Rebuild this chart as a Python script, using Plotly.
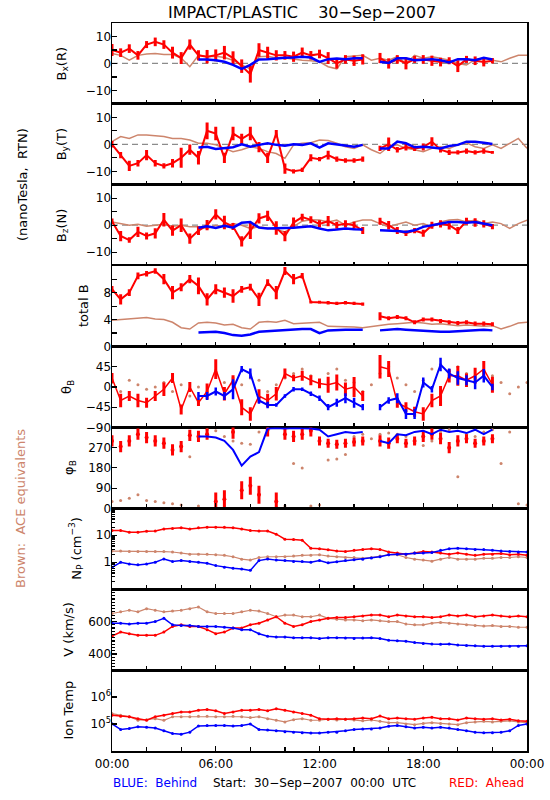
import plotly.graph_objects as go
from plotly.subplots import make_subplots

# ---------------- data (hours of 30-Sep-2007, 30-min samples) ----------------
hours = [0.0, 0.5, 1.0, 1.5, 2.0, 2.5, 3.0, 3.5, 4.0, 4.5, 5.0, 5.5,
         6.0, 6.5, 7.0, 7.5, 8.0, 8.5, 9.0, 9.5, 10.0, 10.5, 11.0, 11.5,
         12.0, 12.5, 13.0, 13.5, 14.0, 14.5, 15.0, 15.5, 16.0, 16.5, 17.0, 17.5,
         18.0, 18.5, 19.0, 19.5, 20.0, 20.5, 21.0, 21.5, 22.0, 22.5, 23.0, 23.5,
         24.0]
N = None

red_bx = [5, 4, 5.5, 3, 7, 8, 7, 4, 2, 7, 3, 2.5,
          3, 4, 2, -1, -4, 5, 4, 3, 3, 2.5, 4, 3,
          3.5, 2, 0, 1.5, 1, 1.5, N, 2, 0, 1.5, 0, 1.5,
          1.5, 1, 0.5, 1, -1, 1.5, 1, 0.5, 1, N, N, N,
          N]
red_bx_spread = [2.2, 1.6, 1.6, 1.6, 1.3, 1.6, 1.6, 2.2, 2.2, 1.9, 1.9, 2.5,
                 2.2, 2.5, 2.5, 2.5, 3.1, 2.5, 2.2, 1.9, 1.6, 1.9, 1.9, 1.6,
                 1.6, 2.2, 1.9, 1.6, 1.9, 1.9, 0, 1.9, 1.9, 1.6, 2.2, 1.3,
                 1.6, 1.9, 1.6, 1.3, 2.2, 1.3, 1.6, 1.6, 1.0, 0, 0, 0,
                 0]
blue_bx = [N, N, N, N, N, N, N, N, N, N, 1.5, 1.5,
           1.2, 0.6, -0.5, -2, -0.5, 1.5, 1.6, 1.9, 2.1, 2.2, 2.5, 2.2,
           0.6, 1.6, 1.8, 1.6, 1.9, 1.9, N, 0.6, 0.2, 1.9, 1.9, 1.2,
           1.5, 1.6, 1.2, 0.4, 1.6, 1.6, 1.2, 2.1, 1.5, N, N, N,
           N]
ace_bx = [3.7, 3, 1.2, 3, 3.5, 3.7, 3.3, 3.3, 2, -1.2, 3, 2.5,
          2.7, 2.2, 1.2, -0.6, -2, 2.5, 2.7, 2, 2, 1.5, 1.2, 1,
          0.6, -1.2, -2, 2.5, 2.7, 3, 1.2, 1.9, 1.2, 2.5, 0, 3,
          1.9, 2.5, 1.9, 1.2, 0, -0.6, 1.5, 1.9, 1.2, 0.6, 1.9, 3,
          3]

red_by = [0, -4, -8, -7, -4, -7, -8, -7, -5, -2, -5, 5,
          4, -5, 4, 2, 4, -1, -5, 4, -9, -10, -9.5, -5,
          -5.5, -4, -5.5, -6, -6, -5.5, N, -1.5, 0, -2, -1, -1.5,
          -1, 1, -2, -3, -3, -2.5, -3, -2.5, -3, N, N, N,
          N]
red_by_spread = [1.2, 1.2, 1.9, 1.2, 1.9, 1.2, 1.0, 1.6, 3.7, 1.9, 2.5, 3.1,
                 2.5, 1.9, 2.5, 1.9, 2.5, 1.9, 1.9, 1.3, 1.9, 0.8, 0.8, 1.3,
                 0.8, 1.6, 1.0, 0.8, 0.8, 1.0, 0, 1.0, 2.5, 1.0, 1.3, 1.0,
                 1.3, 1.6, 1.0, 1.0, 0.8, 1.0, 0.8, 1.0, 0.5, 0, 0, 0,
                 0]
blue_by = [N, N, N, N, N, N, N, N, N, N, -1.2, -0.9,
           -1.7, -1.5, -1.1, 0, -0.9, -0.2, 0.4, -0.2, -0.5, 0, -0.2, 0.4,
           -1.2, 0.4, 0, -0.6, -0.9, -0.2, N, -1.5, -1.5, 1, 0.4, -1.1,
           -0.9, -1.2, -1.5, -0.6, -0.2, 1, 1, 0.6, 0.1, N, N, N,
           N]
ace_by = [1, 2.9, 2.2, 3.5, 3.5, 3.1, 2.9, 2.2, 2.2, 1.6, 0.4, 0.4,
          -0.2, -1.5, -2.7, -2, -0.9, -1.5, -2.7, -3.4, -5.2, -0.2, 0.4, 0.6,
          1.6, 1.4, 0.4, -0.9, -1.5, -0.2, -2, -3.4, -0.9, -0.2, -1.5, -2,
          -2.7, -1.5, -0.9, -1.5, -0.2, 0.6, -0.9, -1.5, -0.2, -1.5, 0.4, 2.2,
          -1.5]

red_bz = [1.5, -4, -5.5, -2.5, -4, -3, 2, -2, 0, -5, -2, 0,
          4, 1, -0.5, -6, -2, 2.5, 3.5, -1, -4, 1, 3, 2,
          0.5, 1.5, 0, 0.5, 0, -2, N, 1.5, 0, -2, -3, -2,
          -3, 0, 0.5, 0, -2, 1.5, 1, 0.5, -0.5, N, N, N,
          N]
red_bz_spread = [1.0, 1.9, 1.0, 1.9, 1.3, 1.9, 2.5, 1.9, 2.5, 1.9, 1.6, 1.9,
                 1.9, 2.5, 1.3, 1.9, 3.1, 1.9, 1.9, 2.5, 1.9, 1.9, 1.3, 1.3,
                 1.3, 1.9, 1.3, 1.3, 1.3, 1.3, 0, 1.3, 1.6, 1.3, 1.0, 1.0,
                 1.3, 1.3, 1.3, 1.6, 1.3, 1.3, 1.6, 1.3, 1.0, 0, 0, 0,
                 0]
blue_bz = [N, N, N, N, N, N, N, N, N, N, -0.9, -0.4,
           -1, -0.2, -0.9, 0.9, 1.2, -0.9, -1.2, -1.2, -1, -0.9, -0.6, -0.4,
           -1.2, -1.9, -1.6, -1.2, -1.5, -1.6, N, -1.9, -1.9, -2.1, -2.5, -1.9,
           -0.6, 0, 0.6, 1.2, 1.2, 0.9, 1.2, 0.6, 0, N, N, N,
           N]
ace_bz = [1.2, 0.6, 0, 0.4, -0.4, 0, 0.4, -0.4, 0, -0.6, -0.6, -1.2,
          0, -0.6, 0.6, 0, -1.2, -0.6, -1.2, -1.6, -2.5, -0.6, 1.5, 2,
          1.9, 1.2, 1.9, 0, 1.2, 1.9, 1.9, 0.6, -0.6, 0.4, 1.2, 0,
          0.6, -0.6, 1.2, 1.9, 2.1, 1.2, 1.9, 0.6, 1.2, 0.6, -1.2, 0.6,
          1.9]

red_bt = [8.5, 7, 8, 10.5, 10.8, 11.2, 10, 8, 8.8, 10, 9, 7,
          8.5, 8, 7.5, 8.5, 8.8, 7, 9.5, 8, 11.2, 10, 10.5, 6.6,
          6.6, 6.5, 6.4, 6.5, 6.4, 6.3, N, 4.5, 4.2, 4.4, 4.2, 3.6,
          4.0, 4.0, 3.8, 3.6, 3.5, 3.6, 3.4, 3.4, 3.3, N, N, N,
          N]
red_bt_spread = [0.5, 0.75, 0.5, 0.5, 0.4, 0.4, 0.75, 1.0, 0.6, 0.6, 1.25, 0.9,
                 0.75, 0.75, 1.0, 0.5, 0.5, 1.0, 0.5, 1.0, 0.6, 0.75, 0.4, 0.2,
                 0.2, 0.25, 0.25, 0.25, 0.25, 0.25, 0, 0.6, 0.3, 0.3, 0.3, 0.3,
                 0.3, 0.3, 0.3, 0.3, 0.3, 0.3, 0.3, 0.3, 0.3, 0, 0, 0,
                 0]
blue_bt = [N, N, N, N, N, N, N, N, N, N, 2.1, 2.1,
           2.2, 2.0, 1.7, 1.6, 1.8, 2.2, 2.3, 2.4, 2.5, 2.6, 2.6, 2.6,
           2.0, 2.4, 2.5, 2.5, 2.5, 2.5, N, 2.4, 2.5, 2.6, 2.5, 2.4,
           2.3, 2.2, 2.2, 2.2, 2.3, 2.4, 2.4, 2.5, 2.4, N, N, N,
           N]
ace_bt = [3.9, 4.0, 4.2, 4.3, 4.3, 4.1, 4.0, 3.6, 2.8, 2.6, 3.5, 3.6,
          3.5, 3.2, 3.3, 2.8, 2.6, 3.6, 3.7, 3.6, 3.9, 3.4, 3.5, 3.6,
          3.6, 3.0, 3.0, 2.9, 2.9, 2.8, 3.0, 3.2, 3.3, 3.4, 3.5, 3.6,
          3.5, 3.3, 3.4, 3.2, 3.1, 3.2, 3.1, 3.0, 3.1, 2.6, 3.0, 3.5,
          3.6]

red_theta = [20, -30, -20, -30, -35, -20, -5, 20, -50, 0, -35, -10,
             40, -15, 15, -45, -60, -20, -30, -15, 30, 20, 25, 15,
             8, 5, 10, -5, 0, -20, N, 45, 40, -35, -45, -55,
             -60, -30, -20, 25, 25, 15, 25, 40, 5, N, N, N,
             N]
red_theta_spread = [11, 15, 11, 15, 11, 11, 15, 11, 11, 11, 7, 18,
                    22, 15, 11, 18, 15, 15, 15, 15, 11, 7, 11, 11,
                    11, 18, 18, 15, 22, 11, 0, 26, 18, 11, 11, 11,
                    15, 15, 22, 15, 22, 15, 18, 18, 18, 0, 0, 0,
                    0]
blue_theta = [N, N, N, N, N, N, N, N, N, N, -20, -20,
              -10, -20, -5, 40, 30, -30, -40, -40, -20, -5, -5, -15,
              -25, -45, -35, -25, -35, -45, N, -45, -30, -25, -60, -60,
              10, -5, 50, 30, 20, 15, 10, 25, 0, N, N, N,
              N]
blue_theta_spread = [0, 0, 0, 0, 0, 0, 0, 0, 0, 0, 9, 9,
                     9, 9, 22, 7, 11, 7, 7, 4, 4, 5, 4, 5,
                     6, 7, 9, 11, 11, 7, 0, 7, 7, 11, 11, 11,
                     11, 7, 15, 11, 15, 11, 15, 15, 7, 0, 0, 0,
                     0]
ace_theta = [10, -10, 15, 5, -5, 0, 10, -10, 5, -20, 0, -10,
             30, 10, 20, 5, 20, 15, -10, 5, 20, 30, 40, 25,
             10, 30, 40, 15, 10, -10, 5, 30, 45, 20, 5, -10,
             15, 40, 50, 35, 45, 30, 20, 35, 25, 10, -15, 0,
             10]

red_phi = [300, 275, 300, 330, 315, 300, 290, 260, 275, 325, 320, 330,
           30, 40, 340, 80, 100, 60, 350, 30, 330, 320, 330, 345,
           300, 290, 285, 290, 295, 300, N, 300, 290, 310, 290, 300,
           320, 330, 310, 270, 300, 310, 290, 300, 310, N, N, N,
           N]
red_phi_spread = [25, 25, 25, 25, 25, 25, 25, 25, 25, 25, 25, 25,
                  40, 40, 30, 40, 40, 40, 30, 40, 25, 25, 25, 25,
                  20, 20, 20, 20, 20, 20, 0, 25, 25, 20, 20, 20,
                  25, 25, 25, 25, 25, 20, 20, 20, 20, 0, 0, 0,
                  0]
blue_phi = [N, N, N, N, N, N, N, N, N, N, 320, 320,
            315, 300, 260, 190, 230, 250, 355, 358, 355, 358, 356, 355,
            350, 320, 330, 340, 335, 340, N, 300, 290, 330, 325, 340,
            345, 330, 350, 340, 345, 335, 350, 330, 350, N, N, N,
            N]
ace_phi = [30, 35, 45, 60, 35, 30, 25, 20, 15, 230, 10, 350,
           345, 320, 300, 290, 285, 340, 355, 5, 10, 200, 180, 10,
           15, 215, 220, 240, 320, 330, 310, 330, 335, 330, 320, 290,
           280, 300, 340, 350, 140, 330, 320, 340, 350, 200, 340, 20,
           15]

red_np = [15, 15, 13, 13, 14, 14.5, 17, 18, 19, 17, 19, 20,
          20, 20, 19, 17, 15, 14.5, 14.5, 11, 7.2, 7, 6.6, 3.3,
          3.2, 2.9, 2.6, 2.5, 2.8, 3.0, 3.2, 3.0, 2.4, 2.2, 2.0, 2.2,
          2.5, 2.4, 2.2, 2.0, 2.2, 2.0, 1.8, 2.0, 2.0, 2.1, 1.9, 2.0,
          1.8]
blue_np = [0.65, 1.0, 0.87, 0.8, 0.87, 1.0, 1.33, 1.06, 1.15, 1.06, 1.0, 0.92,
           0.75, 0.65, 0.6, 0.56, 0.5, 1.15, 1.33, 1.2, 1.15, 1.06, 1.06, 1.0,
           1.15, 0.95, 1.05, 1.15, 1.25, 1.3, 1.45, 1.6, 1.9, 2.0, 2.0, 2.2,
           2.2, 2.3, 2.8, 3.2, 3.3, 3.2, 3.0, 3.0, 2.8, 2.6, 2.5, 2.4,
           2.4]
ace_np = [2.6, 2.6, 2.5, 2.5, 2.5, 2.5, 2.5, 2.4, 2.2, 2.0, 2.0, 2.0,
          1.9, 1.8, 1.6, 1.3, 1.2, 1.5, 1.6, 1.6, 1.6, 1.7, 1.8, 1.8,
          1.9, 1.7, 1.6, 1.5, 1.5, 1.4, 1.5, 1.7, 1.9, 1.9, 1.5, 1.3,
          1.2, 1.1, 1.3, 1.5, 1.3, 1.3, 1.3, 1.4, 1.4, 1.5, 1.5, 1.6,
          1.5]

red_v = [510, 535, 525, 515, 515, 515, 535, 570, 580, 570, 570, 550,
         525, 535, 560, 560, 580, 590, 610, 630, 590, 570, 580, 600,
         610, 620, 625, 625, 630, 635, 640, 640, 630, 640, 635, 630,
         630, 625, 630, 640, 635, 640, 630, 635, 640, 635, 630, 635,
         630]
blue_v = [590, 590, 585, 590, 590, 600, 620, 580, 575, 575, 570, 570,
          570, 565, 560, 550, 550, 525, 510, 505, 505, 500, 500, 500,
          495, 500, 500, 498, 496, 498, 500, 495, 485, 482, 478, 470,
          465, 462, 460, 462, 455, 452, 450, 448, 448, 448, 448, 448,
          450]
ace_v = [650, 660, 670, 660, 680, 670, 660, 665, 670, 680, 690, 660,
         650, 650, 650, 660, 670, 665, 650, 630, 640, 640, 630, 630,
         640, 620, 615, 610, 610, 605, 610, 605, 600, 600, 585, 580,
         580, 590, 595, 590, 585, 580, 575, 572, 575, 570, 570, 565,
         565]

red_temp = [2.14e5, 1.95e5, 1.86e5, 1.58e5, 1.38e5, 1.86e5, 2.14e5, 2.45e5, 2.82e5, 2.82e5, 3.24e5, 3.47e5,
            3.09e5, 2.45e5, 2.82e5, 3.24e5, 3.24e5, 3.47e5, 3.09e5, 3.72e5, 3.24e5, 2.82e5, 2.45e5, 2.14e5,
            1.58e5, 1.51e5, 1.58e5, 1.51e5, 1.58e5, 1.66e5, 1.58e5, 2.0e5, 1.58e5, 1.66e5, 1.58e5, 1.51e5,
            1.66e5, 1.78e5, 1.58e5, 1.58e5, 1.41e5, 1.66e5, 1.58e5, 1.51e5, 1.58e5, 1.41e5, 1.51e5, 1.32e5,
            1.26e5]
blue_temp = [1.02e5, 6.3e4, 6.8e4, 7.9e4, 7.6e4, 7.1e4, 5.6e4, 4.5e4, 4.2e4, 5.0e4, 8.5e4, 8.9e4,
             8.9e4, 8.9e4, 8.5e4, 8.9e4, 1.0e5, 6.3e4, 6.0e4, 5.6e4, 5.2e4, 5.0e4, 4.8e4, 4.7e4,
             4.7e4, 5.0e4, 5.0e4, 5.6e4, 6.3e4, 6.6e4, 6.6e4, 7.1e4, 8.3e4, 8.9e4, 7.9e4, 7.1e4,
             7.6e4, 7.1e4, 7.6e4, 7.1e4, 6.3e4, 5.6e4, 5.0e4, 4.8e4, 4.8e4, 5.0e4, 5.6e4, 8.9e4,
             1.0e5]
ace_temp = [2.45e5, 2.14e5, 1.86e5, 1.38e5, 1.45e5, 1.58e5, 1.38e5, 1.86e5, 1.86e5, 1.86e5, 1.95e5, 1.95e5,
            1.86e5, 1.86e5, 1.95e5, 1.86e5, 1.74e5, 1.86e5, 1.58e5, 1.38e5, 1.2e5, 1.45e5, 1.58e5, 1.38e5,
            1.38e5, 1.51e5, 1.41e5, 1.51e5, 1.41e5, 1.32e5, 1.41e5, 1.26e5, 1.12e5, 1.12e5, 1.0e5, 9.5e4,
            1.05e5, 1.12e5, 1.05e5, 1.0e5, 9.5e4, 1.12e5, 1.2e5, 1.26e5, 1.2e5, 1.26e5, 1.32e5, 1.2e5,
            1.12e5]

x_tickvals = [0, 6, 12, 18, 24]
x_ticktext = ["00:00", "06:00", "12:00", "18:00", "00:00"]

# ---------------- figure ----------------
RED = "#FF0000"
BLUE = "#0000FF"
BROWN = "rgb(205,133,108)"
FONT = "DejaVu Sans"
YSTAND = -3

fig = make_subplots(rows=9, cols=1, shared_xaxes=True, vertical_spacing=0)


def add(row, y, color, spread=None, mode="lines", width=1.5, msize=3, thick=3.0):
    tr = go.Scatter(x=hours, y=y, mode=mode,
                    line=dict(color=color, width=width),
                    marker=dict(color=color, size=msize),
                    connectgaps=False, showlegend=False, hoverinfo="skip")
    if spread is not None:
        tr.error_y = dict(type="data", array=spread, visible=True,
                          width=0, thickness=thick, color=color)
    fig.add_trace(tr, row=row, col=1)


# B components
for row, (rv, rs, bv, av) in enumerate([
        (red_bx, red_bx_spread, blue_bx, ace_bx),
        (red_by, red_by_spread, blue_by, ace_by),
        (red_bz, red_bz_spread, blue_bz, ace_bz),
        (red_bt, red_bt_spread, blue_bt, ace_bt)], start=1):
    add(row, av, BROWN, width=1.5)
    add(row, rv, RED, spread=rs, width=2)
    add(row, bv, BLUE, width=2.5)

add(5, ace_theta, BROWN, mode="markers", msize=3)
add(5, red_theta, RED, spread=red_theta_spread, width=1.5)
add(5, blue_theta, BLUE, spread=blue_theta_spread, width=2, thick=2.5)

add(6, ace_phi, BROWN, mode="markers", msize=3)
add(6, red_phi, RED, spread=red_phi_spread, mode="markers", msize=4)
add(6, blue_phi, BLUE, width=2)

add(7, ace_np, BROWN, mode="lines+markers", width=1.2, msize=3)
add(7, red_np, RED, mode="lines+markers", width=1.5, msize=3)
add(7, blue_np, BLUE, mode="lines+markers", width=1.5, msize=3)

add(8, ace_v, BROWN, mode="lines+markers", width=1.2, msize=3)
add(8, red_v, RED, mode="lines+markers", width=1.5, msize=3)
add(8, blue_v, BLUE, mode="lines+markers", width=1.5, msize=3)

add(9, ace_temp, BROWN, mode="lines+markers", width=1.2, msize=3)
add(9, red_temp, RED, mode="lines+markers", width=1.5, msize=3)
add(9, blue_temp, BLUE, mode="lines+markers", width=1.5, msize=3)

for row in (1, 2, 3):
    fig.add_hline(y=0, line=dict(color="#8c8c8c", dash="6px,4px", width=1.2),
                  layer="below", row=row, col=1)

axis_common = dict(showline=True, linecolor="black", linewidth=1.5, mirror=True,
                   ticks="inside", tickcolor="black", ticklen=5, tickwidth=1.2,
                   showgrid=False, zeroline=False, automargin=False,
                   tickfont=dict(family=FONT, size=12, color="black"))

for i in range(1, 10):
    fig.update_xaxes(range=[0, 24], tickmode="array", tickvals=x_tickvals,
                     ticktext=x_ticktext, showticklabels=(i == 9), ticklabelstandoff=1,
                     minor=dict(tickmode="array", tickvals=[2, 4, 8, 10, 14, 16, 20, 22],
                                ticks="inside", ticklen=4, tickcolor="black"),
                     row=i, col=1, **axis_common)

lin_axes = {
    1: dict(range=[-15, 15], tickvals=[-10, 0, 10], ticktext=["\u221210", "0", "10"], minor=[-5, 5]),
    2: dict(range=[-15, 15], tickvals=[-10, 0, 10], ticktext=["\u221210", "0", "10"], minor=[-5, 5]),
    3: dict(range=[-15, 15], tickvals=[-10, 0, 10], ticktext=["\u221210", "0", "10"], minor=[-5, 5]),
    4: dict(range=[0, 12], tickvals=[0, 4, 8], ticktext=["0", "4", "8"], minor=[2, 6, 10]),
    5: dict(range=[-90, 90], tickvals=[-90, -45, 0, 45], ticktext=["\u221290", "\u221245", "0", "45"], minor=[]),
    6: dict(range=[0, 360], tickvals=[0, 90, 180, 270], ticktext=["0", "90", "180", "270"], minor=[]),
    8: dict(range=[300, 800], tickvals=[400, 600], ticktext=["400", "600"],
            minor=[320, 340, 360, 380, 420, 440, 460, 480, 500, 520, 540, 560, 580,
                   620, 640, 660, 680, 700, 720, 740, 760, 780]),
}
for row, a in lin_axes.items():
    fig.update_yaxes(range=a["range"], tickmode="array", tickvals=a["tickvals"],
                     ticktext=a["ticktext"], ticklabelstandoff=YSTAND,
                     minor=dict(tickmode="array", tickvals=a["minor"], ticks="inside",
                                ticklen=3 if row == 8 else 5, tickcolor="black"),
                     row=row, col=1, **axis_common)

fig.update_yaxes(type="log", range=[-1, 2], tickmode="array", tickvals=[1, 10],
                 ticktext=["1", "10"], ticklabelstandoff=YSTAND,
                 minor=dict(tickmode="array",
                            tickvals=[0.2, 0.3, 0.4, 0.5, 0.6, 0.7, 0.8, 0.9,
                                      2, 3, 4, 5, 6, 7, 8, 9,
                                      20, 30, 40, 50, 60, 70, 80, 90],
                            ticks="inside", ticklen=3, tickcolor="black"),
                 row=7, col=1, **axis_common)
fig.update_yaxes(type="log", range=[4, 7], tickmode="array", tickvals=[1e5, 1e6],
                 ticktext=["10<sup>5</sup>", "10<sup>6</sup>"], ticklabelstandoff=YSTAND,
                 row=9, col=1, **axis_common)

# ---------------- text ----------------
W, H = 550, 800
L, R, T, B = 112, 23, 23, 49
PW, PH = W - L - R, H - T - B


def px_x(px):  # page pixel -> paper x
    return (px - L) / PW


def px_y(py):  # page pixel -> paper y
    return (H - B - py) / PH


ytitles = ["B<sub>x</sub>(R)", "B<sub>y</sub>(T)", "B<sub>z</sub>(N)", "total B",
           "\u03b8<sub>B</sub>", "\u03c6<sub>B</sub>", "N<sub>P</sub> (cm<sup>\u22123</sup>)",
           "V (km/s)", "Ion Temp"]
ytitle_px = [62, 62, 62, 83, 67, 70, 76, 69, 69]
ann = []
for i, (t, xp) in enumerate(zip(ytitles, ytitle_px)):
    ann.append(dict(text=t, x=px_x(xp), y=1 - (i + 0.5) / 9, xref="paper", yref="paper",
                    textangle=-90, showarrow=False, xanchor="center", yanchor="middle",
                    font=dict(family=FONT, size=13, color="black")))

ann.append(dict(text="(nanoTesla,\u00a0 RTN)", x=px_x(22), y=px_y(185), xref="paper", yref="paper",
                textangle=-90, showarrow=False, xanchor="center", yanchor="middle",
                font=dict(family=FONT, size=13, color="black")))
ann.append(dict(text="Brown:\u00a0 ACE equivalents", x=px_x(20), y=px_y(509), xref="paper", yref="paper",
                textangle=-90, showarrow=False, xanchor="center", yanchor="middle",
                font=dict(family=FONT, size=13, color=BROWN)))
ann.append(dict(text="IMPACT/PLASTIC\u00a0\u00a0\u00a0 30\u2212Sep\u22122007", x=px_x(302), y=px_y(12),
                xref="paper", yref="paper", showarrow=False, xanchor="center", yanchor="middle",
                font=dict(family=FONT, size=16, color="black")))
ann.append(dict(text="BLUE:\u00a0 Behind", x=px_x(111), y=px_y(783), xref="paper", yref="paper",
                showarrow=False, xanchor="left", yanchor="middle",
                font=dict(family=FONT, size=12, color=BLUE)))
ann.append(dict(text="Start:\u00a0 30\u2212Sep\u22122007\u00a0 00:00\u00a0 UTC", x=px_x(211), y=px_y(783),
                xref="paper", yref="paper", showarrow=False, xanchor="left", yanchor="middle",
                font=dict(family=FONT, size=12, color="black")))
ann.append(dict(text="RED:\u00a0 Ahead", x=px_x(526), y=px_y(783), xref="paper", yref="paper",
                showarrow=False, xanchor="right", yanchor="middle",
                font=dict(family=FONT, size=12, color=RED)))

fig.update_layout(width=W, height=H, margin=dict(l=L, r=R, t=T, b=B, autoexpand=False),
                  paper_bgcolor="white", plot_bgcolor="white",
                  showlegend=False, annotations=ann, hovermode=False,
                  font=dict(family=FONT, size=12, color="black"))

# remove the browser's default 8px body margin so the figure sits at the page origin
fig.write_html("out.html", config={"displayModeBar": False, "staticPlot": True},
               post_script="document.body.style.margin='0';document.body.style.padding='0';")
